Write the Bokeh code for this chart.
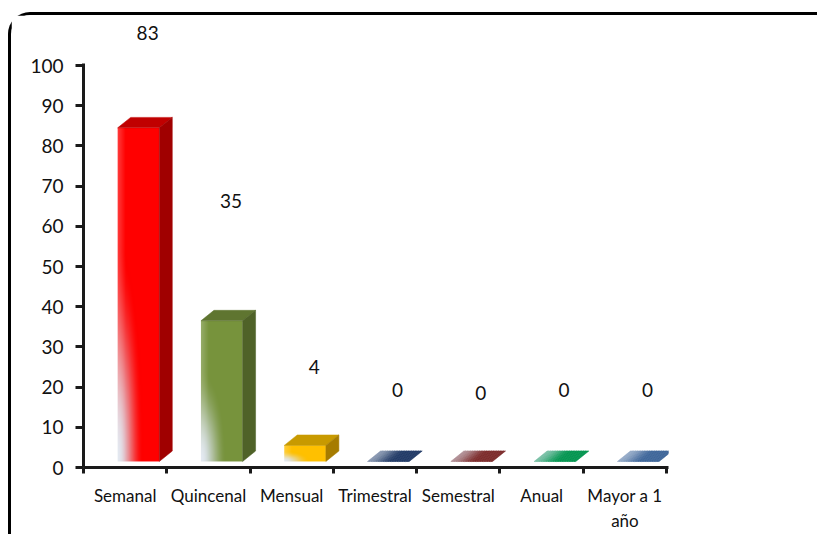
import numpy as np
from bokeh.plotting import figure
from bokeh.models import Range1d, LinearAxis, FixedTicker, ColumnDataSource
from bokeh.core.properties import value as pv
from bokeh.embed import file_html
from bokeh.resources import INLINE

# ---- data ----
categories = ["Semanal", "Quincenal", "Mensual", "Trimestral", "Semestral", "Anual", "Mayor a 1 año"]
tick_labels = ["Semanal", "Quincenal", "Mensual", "Trimestral", "Semestral", "Anual", "Mayor a 1\naño"]
counts = [83, 35, 4, 0, 0, 0, 0]
y_ticks = list(range(0, 101, 10))

# ---- style ----
front_colors = [(255, 0, 0), (119, 147, 60), (255, 192, 0), (31, 56, 100), (122, 40, 40), (0, 148, 78), (60, 100, 152)]
top_colors = ["#C00000", "#5F7530", "#C89A00", "#1F3864", "#7A2828", "#00944E", "#3C6498"]
side_colors = ["#A00000", "#4F6228", "#A67C00", "#16284A", "#5A1E1E", "#006E3A", "#2C4A72"]
label_lift = [25.2, 31.2, 21.0, 19.2, 18.6, 19.2, 19.2]   # label placement above value (axis units)
PALE = np.array([221, 228, 238], dtype=float)
BASE = 1.5          # 3D floor offset
LEFT_OFF, WIDTH = -0.09, 0.50
DX, DY = 0.156, 2.6
PX_Y = 4.02
FONT_NAME = "Lato"
FONT = pv(FONT_NAME)
AXIS_COLOR = "#1a1a1a"

p = figure(width=809, height=522, output_backend="svg", toolbar_location=None,
           x_range=Range1d(-0.5, 6.523), y_range=Range1d(0, 111.2),
           x_axis_type=None, y_axis_type=None,
           min_border_left=72, min_border_right=152, min_border_top=5, min_border_bottom=70,
           outline_line_color=None, background_fill_color="white", border_fill_color="white",
           margin=(12, 0, 0, 8),
           styles={"border-top": "3px solid black", "border-left": "3px solid black",
                   "border-top-left-radius": "22px", "background": "white"})

def rgba_img(arr):
    h, w, _ = arr.shape
    img = np.empty((h, w), dtype=np.uint32)
    view = img.view(dtype=np.uint8).reshape((h, w, 4))
    view[:, :, :] = arr
    return img

for i, v in enumerate(counts):
    base_rgb = np.array(front_colors[i], dtype=float)
    l = i + LEFT_OFF
    r = l + WIDTH
    b = BASE
    t = BASE + v
    if v > 0:
        w_px = 42
        h_px = max(2, int(round(v * PX_Y)))
        u = np.linspace(0, 1, w_px)[None, :]
        vv = np.linspace(0, 1, h_px)[:, None]
        s = np.clip(np.sqrt((u / 0.6) ** 2 + (vv / 0.65) ** 2), 0, 1)
        s = s * s * (3 - 2 * s)
        col = PALE[None, None, :] + (base_rgb - PALE)[None, None, :] * s[:, :, None]
        hl = np.clip(1 - u / 0.18, 0, 1)[:, :, None] * 0.22
        col = col + (255 - col) * hl
        arr = np.zeros((h_px, w_px, 4), dtype=np.uint8)
        arr[:, :, :3] = np.clip(col, 0, 255).astype(np.uint8)
        arr[:, :, 3] = 255
        p.image_rgba(image=[rgba_img(arr)], x=l, y=b, dw=WIDTH, dh=v)
        p.patch([l, r, r + DX, l + DX], [t, t, t + DY, t + DY], fill_color=top_colors[i],
                line_color=top_colors[i], line_width=0.5)
        p.patch([r, r + DX, r + DX, r], [b, b + DY, t + DY, t], fill_color=side_colors[i],
                line_color=side_colors[i], line_width=0.5)
    else:
        n = 24
        pale = 0.55 * PALE + 0.45 * base_rgb
        xs, ys, cols = [], [], []
        for k in range(n):
            u0, u1 = k / n, (k + 1) / n
            um = (u0 + u1) / 2
            s = min(1.0, um / 0.6)
            s = s * s * (3 - 2 * s)
            c = pale + (base_rgb - pale) * s
            hexc = "#%02x%02x%02x" % tuple(int(round(x)) for x in c)
            x0, x1 = l + u0 * WIDTH, l + u1 * WIDTH
            xs.append([x0, x1, x1 + DX, x0 + DX])
            ys.append([b, b, b + DY, b + DY])
            cols.append(hexc)
        p.patches(xs, ys, fill_color=cols, line_color=cols, line_width=0.6)

# value labels
lab = ColumnDataSource(dict(x=[i + 0.27 for i in range(len(counts))],
                            y=[c + g for c, g in zip(counts, label_lift)],
                            text=[str(c) for c in counts]))
p.text(x="x", y="y", text="text", source=lab, text_font=FONT, text_font_size="19px",
       text_align="center", text_baseline="middle", text_color="#111111")

# y axis
yaxis = LinearAxis(ticker=FixedTicker(ticks=y_ticks), bounds=(0, 100.5),
                   axis_line_color=AXIS_COLOR, axis_line_width=3,
                   major_tick_line_color=AXIS_COLOR, major_tick_line_width=3,
                   major_tick_out=8, major_tick_in=0, minor_tick_line_color=None,
                   major_label_text_font=FONT_NAME, major_label_text_font_size="19px",
                   major_label_text_color="#111111", major_label_standoff=12)
p.add_layout(yaxis, "left")

# x axis: line + category-boundary ticks
n_cat = len(categories)
xaxis_ticks = LinearAxis(ticker=FixedTicker(ticks=[k - 0.5 for k in range(n_cat + 1)]),
                         bounds=(-0.5, 6.52),
                         major_label_overrides={k - 0.5: "" for k in range(n_cat + 1)},
                         major_label_text_font_size="1px", major_label_standoff=0,
                         axis_line_color=AXIS_COLOR, axis_line_width=3,
                         major_tick_line_color=AXIS_COLOR, major_tick_line_width=3,
                         major_tick_out=6, major_tick_in=0, minor_tick_line_color=None)
p.add_layout(xaxis_ticks, "below")

# x axis: category labels
xaxis_labels = LinearAxis(ticker=FixedTicker(ticks=list(range(n_cat))),
                          major_label_overrides={i: t for i, t in enumerate(tick_labels)},
                          axis_line_color=None, major_tick_line_color=None, minor_tick_line_color=None,
                          major_tick_out=0, major_tick_in=0,
                          major_label_text_font=FONT_NAME, major_label_text_font_size="17px",
                          major_label_text_color="#111111", major_label_standoff=11)
p.add_layout(xaxis_labels, "below")

open("out.html", "w").write(file_html(p, INLINE))
